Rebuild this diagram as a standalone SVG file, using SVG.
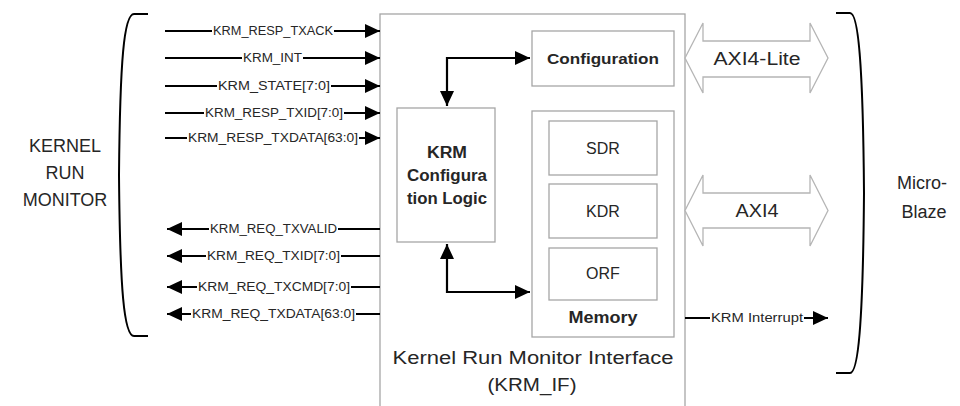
<svg xmlns="http://www.w3.org/2000/svg" width="960" height="406" viewBox="0 0 960 406">
<style>
.box{fill:#fff;stroke:#a6a6a6;stroke-width:1.3}
.wire{fill:none;stroke:#000;stroke-width:2.2}
.bus{fill:#fff;stroke:#b5b5b5;stroke-width:1.3}
.brk{fill:none;stroke:#000;stroke-width:2}
.t{font-family:"Liberation Sans",Arial,sans-serif;fill:#262626}
.sig{font-size:12px;text-anchor:middle}
.bg{fill:#fff}
.b{font-weight:bold;text-anchor:middle}
.c{text-anchor:middle}
</style>
<defs>
<marker id="ah" markerUnits="userSpaceOnUse" markerWidth="16" markerHeight="14" refX="15" refY="7" orient="auto-start-reverse">
<path d="M0,0 L15,7 L0,14 z" fill="#000"/>
</marker>
</defs>
<rect width="960" height="406" fill="#fff"/>

<g id="krm_if">
<rect class="box" x="380" y="14" width="305" height="400"/>
<text class="t c" x="533" y="364" font-size="18" textLength="281" lengthAdjust="spacingAndGlyphs">Kernel Run Monitor Interface</text>
<text class="t c" x="532" y="391" font-size="18" textLength="89" lengthAdjust="spacingAndGlyphs">(KRM_IF)</text>
</g>

<g id="configuration">
<rect class="box" x="532" y="31" width="142" height="55"/>
<text class="t b" x="603" y="64" font-size="15.5" textLength="112" lengthAdjust="spacingAndGlyphs">Configuration</text>
</g>

<g id="config_logic">
<rect class="box" x="397" y="108" width="98" height="134"/>
<text class="t b" x="447" y="158" font-size="16" textLength="40" lengthAdjust="spacingAndGlyphs">KRM</text>
<text class="t b" x="447" y="181" font-size="16" textLength="80" lengthAdjust="spacingAndGlyphs">Configura</text>
<text class="t b" x="447" y="204" font-size="16" textLength="80" lengthAdjust="spacingAndGlyphs">tion Logic</text>
</g>

<g id="memory">
<rect class="box" x="532" y="111" width="142" height="226"/>
<text class="t b" x="603" y="323" font-size="16" textLength="69" lengthAdjust="spacingAndGlyphs">Memory</text>
</g>
<g id="sdr">
<rect class="box" x="549" y="121" width="108" height="54"/>
<text class="t c" x="603" y="154" font-size="16">SDR</text>
</g>
<g id="kdr">
<rect class="box" x="549" y="184" width="108" height="54"/>
<text class="t c" x="603" y="217" font-size="16">KDR</text>
</g>
<g id="orf">
<rect class="box" x="549" y="248" width="108" height="52"/>
<text class="t c" x="603" y="279" font-size="16">ORF</text>
</g>

<g id="kernel_run_monitor">
<path class="brk" d="M148,14 H134 C124,14 120,60 119,175 C120,290 124,336 134,336 H148"/>
<text class="t c" x="65" y="152" font-size="18">KERNEL</text>
<text class="t c" x="65" y="179" font-size="18">RUN</text>
<text class="t c" x="65" y="206" font-size="18">MONITOR</text>
</g>

<g id="microblaze">
<path class="brk" d="M836,13 H850 C858,13 863,60 864,193 C863,326 858,373 850,373 H836"/>
<text class="t c" x="922" y="189" font-size="18">Micro-</text>
<text class="t c" x="924" y="218" font-size="18">Blaze</text>
</g>

<g id="axi4lite">
<path class="bus" d="M685,58 L703,23 L703,41 L810,41 L810,23 L828,58 L810,93 L810,77 L703,77 L703,93 Z"/>
<text class="t c" x="757" y="64.5" font-size="18" textLength="87" lengthAdjust="spacingAndGlyphs">AXI4-Lite</text>
</g>
<g id="axi4">
<path class="bus" d="M685,210.5 L703,175 L703,193 L810,193 L810,175 L828,210.5 L810,246 L810,228 L703,228 L703,246 Z"/>
<text class="t c" x="757" y="217" font-size="18" textLength="43" lengthAdjust="spacingAndGlyphs">AXI4</text>
</g>

<g id="connectors">
<path class="wire" d="M447,106 V58 H530" marker-start="url(#ah)" marker-end="url(#ah)"/>
<path class="wire" d="M447,244 V292 H530" marker-start="url(#ah)" marker-end="url(#ah)"/>

<line class="wire" x1="165" y1="31" x2="380" y2="31" marker-end="url(#ah)"/>
<rect class="bg" x="212" y="25" width="122" height="12"/>
<text class="t sig" x="273" y="35.3" textLength="120" lengthAdjust="spacingAndGlyphs">KRM_RESP_TXACK</text>

<line class="wire" x1="165" y1="58" x2="380" y2="58" marker-end="url(#ah)"/>
<rect class="bg" x="242" y="52" width="61" height="12"/>
<text class="t sig" x="272.5" y="62.3" textLength="59" lengthAdjust="spacingAndGlyphs">KRM_INT</text>

<line class="wire" x1="165" y1="86" x2="380" y2="86" marker-end="url(#ah)"/>
<rect class="bg" x="217" y="80" width="114" height="12"/>
<text class="t sig" x="274" y="90.3" textLength="112" lengthAdjust="spacingAndGlyphs">KRM_STATE[7:0]</text>

<line class="wire" x1="165" y1="113" x2="380" y2="113" marker-end="url(#ah)"/>
<rect class="bg" x="204" y="107" width="140" height="12"/>
<text class="t sig" x="274" y="117.3" textLength="138" lengthAdjust="spacingAndGlyphs">KRM_RESP_TXID[7:0]</text>

<line class="wire" x1="165" y1="138" x2="380" y2="138" marker-end="url(#ah)"/>
<rect class="bg" x="187" y="132" width="172" height="12"/>
<text class="t sig" x="273" y="142.3" textLength="170" lengthAdjust="spacingAndGlyphs">KRM_RESP_TXDATA[63:0]</text>

<line class="wire" x1="380" y1="229" x2="167" y2="229" marker-end="url(#ah)"/>
<rect class="bg" x="209" y="223" width="129" height="12"/>
<text class="t sig" x="273.5" y="233.3" textLength="127" lengthAdjust="spacingAndGlyphs">KRM_REQ_TXVALID</text>

<line class="wire" x1="380" y1="256" x2="167" y2="256" marker-end="url(#ah)"/>
<rect class="bg" x="206" y="250" width="135" height="12"/>
<text class="t sig" x="273.5" y="260.3" textLength="133" lengthAdjust="spacingAndGlyphs">KRM_REQ_TXID[7:0]</text>

<line class="wire" x1="380" y1="287" x2="167" y2="287" marker-end="url(#ah)"/>
<rect class="bg" x="197" y="281" width="154" height="12"/>
<text class="t sig" x="274" y="291.3" textLength="152" lengthAdjust="spacingAndGlyphs">KRM_REQ_TXCMD[7:0]</text>

<line class="wire" x1="380" y1="314" x2="167" y2="314" marker-end="url(#ah)"/>
<rect class="bg" x="191" y="308" width="165" height="12"/>
<text class="t sig" x="273.5" y="318.3" textLength="163" lengthAdjust="spacingAndGlyphs">KRM_REQ_TXDATA[63:0]</text>

<line class="wire" x1="685" y1="318" x2="828" y2="318" marker-end="url(#ah)"/>
<rect class="bg" x="710" y="312" width="94" height="12"/>
<text class="t sig" x="757" y="322.3" textLength="92" lengthAdjust="spacingAndGlyphs">KRM Interrupt</text>
</g>
</svg>
